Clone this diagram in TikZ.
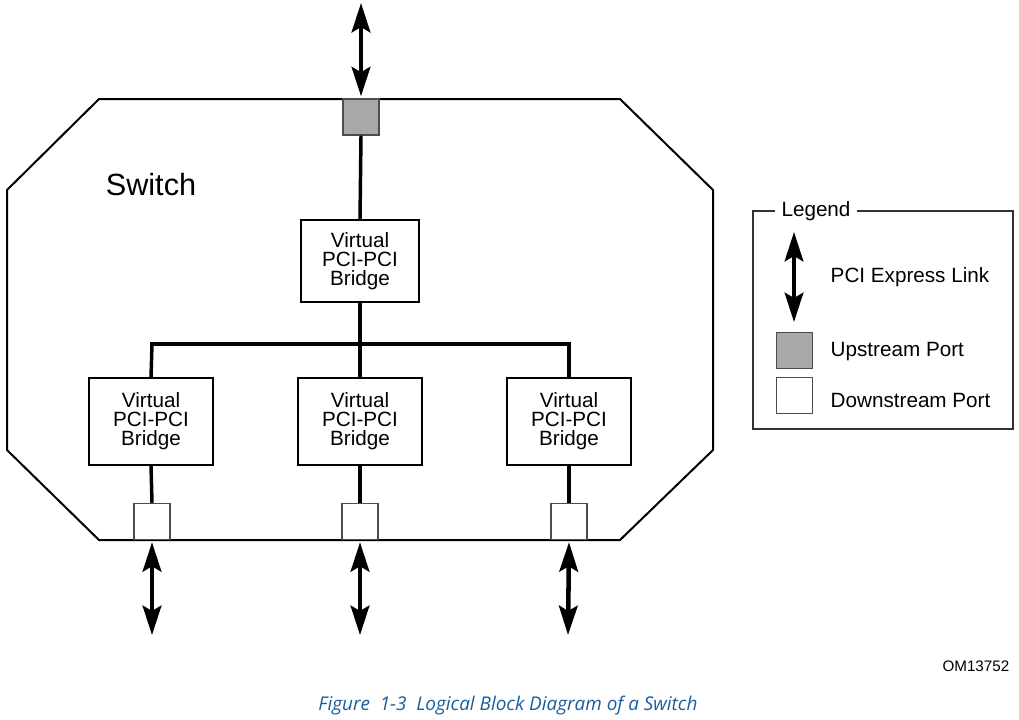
\documentclass[tikz,border=0pt]{standalone}
\usepackage{fontspec}
\setmainfont{Liberation Sans}
\newfontfamily\capfont{Open Sans}
\usetikzlibrary{arrows.meta}
\definecolor{portgray}{HTML}{A8A8A8}
\definecolor{capblue}{HTML}{1A5D9C}
\begin{document}
\begin{tikzpicture}[x=.75pt,y=-.75pt,line join=miter,
    bridge/.style={draw,line width=1.1pt,fill=white,align=center,inner sep=0pt,
      font=\fontsize{15.5}{14.3}\selectfont},
    port/.style={draw=black!70,line width=1.1pt,minimum size=27pt,inner sep=0pt},
    bus/.style={line width=2.6pt},
    link/.style={line width=3.4pt,{Stealth[length=22pt,width=14pt,inset=4pt]}-{Stealth[length=22pt,width=14pt,inset=4pt]}},
    lgtext/.style={anchor=west,font=\fontsize{15.5}{18}\selectfont}]
  \useasboundingbox (0,0) rectangle (1019,719);
  % switch outline
  \draw[line width=1.5pt] (99,99) -- (620,99) -- (713,190) -- (713,450) -- (620,540)
    -- (99,540) -- (7,450) -- (7,190) -- cycle;
  \node[font=\fontsize{23}{26}\selectfont] (sw) at (151,185) {Switch};
  % ports
  \node[port,fill=portgray] (up) at (361,117) {};
  \node[port,fill=white] (d1) at (152,521.5) {};
  \node[port,fill=white] (d2) at (360,521.5) {};
  \node[port,fill=white] (d3) at (569,521.5) {};
  % bridges
  \node[bridge,minimum width=88.5pt,minimum height=61.5pt] (top) at (360,261) {Virtual\\PCI-PCI\\Bridge};
  \node[bridge,minimum width=93pt,minimum height=65pt] (b1) at (151,421.5) {Virtual\\PCI-PCI\\Bridge};
  \node[bridge,minimum width=93pt,minimum height=65pt] (b2) at (360,421.5) {Virtual\\PCI-PCI\\Bridge};
  \node[bridge,minimum width=93pt,minimum height=65pt] (b3) at (569,421.5) {Virtual\\PCI-PCI\\Bridge};
  % internal connections
  \coordinate (j1) at (152,344);
  \coordinate (j2) at (360,344);
  \coordinate (j3) at (569,344);
  \draw[bus] (up.south) -- (top.north);
  \draw[bus] (top.south) -- (j2);
  \draw[bus,line cap=rect] (j1) -- (j3);
  \draw[bus] (j1) -- (b1.north);
  \draw[bus] (j2) -- (b2.north);
  \draw[bus] (j3) -- (b3.north);
  \draw[bus] (b1.south) -- (d1.north);
  \draw[bus] (b2.south) -- (d2.north);
  \draw[bus] (b3.south) -- (d3.north);
  % links
  \coordinate (e0) at (361,3);
  \coordinate (e1) at (152,635);
  \coordinate (e2) at (360,635);
  \coordinate (e3) at (568,635);
  \draw[link] (e0) -- ([yshift=1.5pt]up.north);
  \draw[link] ([yshift=-1.5pt]d1.south) -- (e1);
  \draw[link] ([yshift=-1.5pt]d2.south) -- (e2);
  \draw[link] ([yshift=-1.5pt]d3.south) -- (e3);
  % legend
  \draw[line width=.8pt,draw=black!80] (753,211) rectangle (1013,429);
  \node[fill=white,inner xsep=5pt,font=\fontsize{15.5}{18}\selectfont] (lg) at (816,211) {Legend};
  \coordinate (la) at (794,232);
  \coordinate (lb) at (794,322);
  \draw[link,line width=3pt] (la) -- (lb);
  \node[lgtext] (ltxt) at (826,277) {PCI Express Link};
  \node[port,fill=portgray] (lup) at (794.5,350.5) {};
  \node[lgtext] (luptxt) at (826,352) {Upstream Port};
  \node[port,fill=white] (ldown) at (794.5,395.5) {};
  \node[lgtext] (ldowntxt) at (826,400) {Downstream Port};
  % figure id and caption
  \node[anchor=east,font=\fontsize{11.4}{13}\selectfont] (om) at (1014,666) {OM13752};
  \node[text=capblue,font=\capfont\itshape\fontsize{14.2}{16}\selectfont] (cap) at (508,706)
    {Figure\ \ 1-3\ \ Logical Block Diagram of a Switch};
\end{tikzpicture}
\end{document}
